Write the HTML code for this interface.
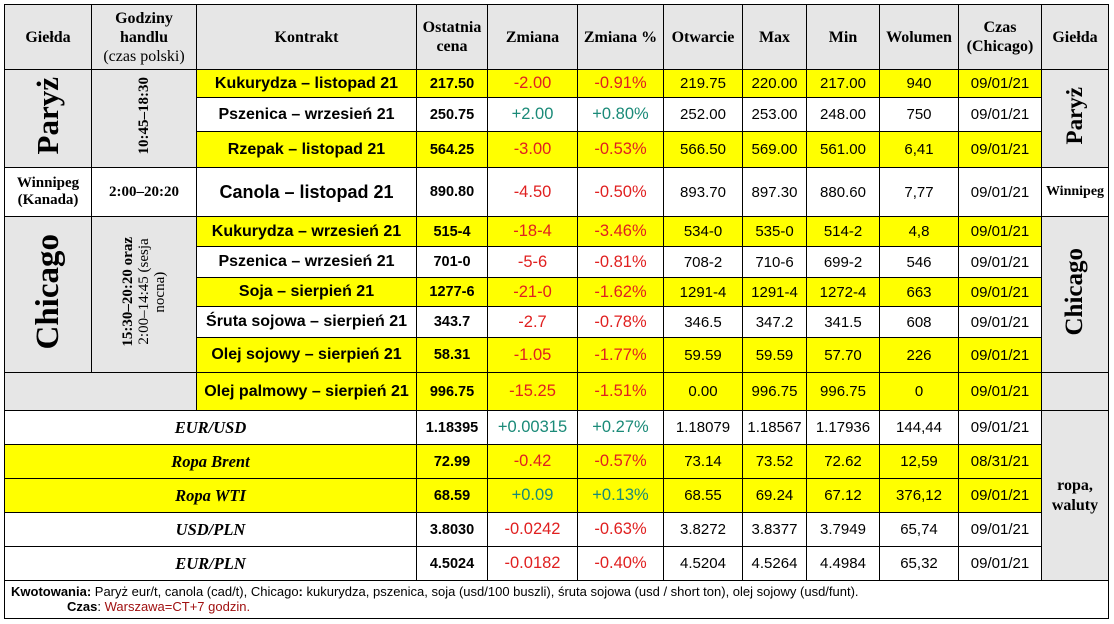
<!DOCTYPE html>
<html><head><meta charset="utf-8"><style>
body{margin:0;background:#fff;width:1114px;height:624px;overflow:hidden}
table{position:absolute;left:4px;top:4px;border-collapse:collapse;table-layout:fixed;width:1104px}
td{border:1px solid #000;text-align:center;vertical-align:middle;padding:0;font-family:"Liberation Sans",sans-serif;font-size:15px;color:#000;overflow:hidden}
.h{background:#e6e6e6;font-family:"Liberation Serif",serif;font-weight:bold;font-size:16px;line-height:19px}
.g{background:#e6e6e6;font-family:"Liberation Serif",serif;font-weight:bold}
.y td.c{background:#ff0}
.k{font-weight:bold;font-size:16px}
.b{font-weight:bold;font-size:14.5px}
.r{color:#e02020;font-size:16.5px}
.gr{color:#1a8a78;font-size:16.5px}
.it{font-family:"Liberation Serif",serif;font-weight:bold;font-style:italic;font-size:16.5px}
.rot{writing-mode:vertical-rl;transform:rotate(180deg);display:inline-block;white-space:nowrap}
</style></head><body>
<table>
<colgroup><col style="width:87px"><col style="width:105px"><col style="width:220px"><col style="width:71px"><col style="width:90px"><col style="width:86px"><col style="width:79px"><col style="width:64px"><col style="width:73px"><col style="width:79px"><col style="width:83px"><col style="width:67px"></colgroup>
<tr style="height:65px"><td class="h">Giełda</td><td class="h">Godziny<br>handlu<br><span style="font-weight:normal">(czas polski)</span></td><td class="h">Kontrakt</td><td class="h">Ostatnia<br>cena</td><td class="h">Zmiana</td><td class="h">Zmiana %</td><td class="h">Otwarcie</td><td class="h">Max</td><td class="h">Min</td><td class="h">Wolumen</td><td class="h">Czas<br>(Chicago)</td><td class="h">Giełda</td></tr>
<tr class="y" style="height:28px"><td class="g" rowspan="3"><span class="rot" style="font-size:31px">Paryż</span></td><td class="g" rowspan="3"><span class="rot" style="font-size:15px">10:45–18:30</span></td><td class="c k">Kukurydza – listopad 21</td><td class="c b">217.50</td><td class="c r">-2.00</td><td class="c r">-0.91%</td><td class="c">219.75</td><td class="c">220.00</td><td class="c">217.00</td><td class="c">940</td><td class="c">09/01/21</td><td class="g" rowspan="3"><span class="rot" style="font-size:23px">Paryż</span></td></tr>
<tr style="height:34px"><td class="k">Pszenica – wrzesień 21</td><td class="b">250.75</td><td class="gr">+2.00</td><td class="gr">+0.80%</td><td>252.00</td><td>253.00</td><td>248.00</td><td>750</td><td>09/01/21</td></tr>
<tr class="y" style="height:36px"><td class="c k">Rzepak – listopad 21</td><td class="c b">564.25</td><td class="c r">-3.00</td><td class="c r">-0.53%</td><td class="c">566.50</td><td class="c">569.00</td><td class="c">561.00</td><td class="c">6,41</td><td class="c">09/01/21</td></tr>
<tr style="height:49px"><td style="font-family:'Liberation Serif',serif;font-weight:bold;font-size:15px">Winnipeg<br>(Kanada)</td><td style="font-family:'Liberation Serif',serif;font-weight:bold;font-size:15px">2:00–20:20</td><td class="b" style="font-size:18px">Canola – listopad 21</td><td class="b">890.80</td><td class="r">-4.50</td><td class="r">-0.50%</td><td>893.70</td><td>897.30</td><td>880.60</td><td>7,77</td><td>09/01/21</td><td style="font-family:'Liberation Serif',serif;font-weight:bold;font-size:14px">Winnipeg</td></tr>
<tr class="y" style="height:30px"><td class="g" rowspan="5"><span class="rot" style="font-size:33px">Chicago</span></td><td class="g" rowspan="5"><span class="rot" style="font-size:15px;line-height:16px;text-align:center"><b>15:30–20:20 oraz</b><br><span style="font-weight:normal">2:00–14:45 (sesja<br>nocna)</span></span></td><td class="c k">Kukurydza – wrzesień 21</td><td class="c b">515-4</td><td class="c r">-18-4</td><td class="c r">-3.46%</td><td class="c">534-0</td><td class="c">535-0</td><td class="c">514-2</td><td class="c">4,8</td><td class="c">09/01/21</td><td class="g" rowspan="5"><span class="rot" style="font-size:25px">Chicago</span></td></tr>
<tr style="height:31px"><td class="k">Pszenica – wrzesień 21</td><td class="b">701-0</td><td class="r">-5-6</td><td class="r">-0.81%</td><td>708-2</td><td>710-6</td><td>699-2</td><td>546</td><td>09/01/21</td></tr>
<tr class="y" style="height:29px"><td class="c k">Soja – sierpień 21</td><td class="c b">1277-6</td><td class="c r">-21-0</td><td class="c r">-1.62%</td><td class="c">1291-4</td><td class="c">1291-4</td><td class="c">1272-4</td><td class="c">663</td><td class="c">09/01/21</td></tr>
<tr style="height:31px"><td class="k">Śruta sojowa – sierpień 21</td><td class="b">343.7</td><td class="r">-2.7</td><td class="r">-0.78%</td><td>346.5</td><td>347.2</td><td>341.5</td><td>608</td><td>09/01/21</td></tr>
<tr class="y" style="height:35px"><td class="c k">Olej sojowy – sierpień 21</td><td class="c b">58.31</td><td class="c r">-1.05</td><td class="c r">-1.77%</td><td class="c">59.59</td><td class="c">59.59</td><td class="c">57.70</td><td class="c">226</td><td class="c">09/01/21</td></tr>
<tr class="y" style="height:38px"><td class="g" colspan="2"></td><td class="c k">Olej palmowy – sierpień 21</td><td class="c b">996.75</td><td class="c r">-15.25</td><td class="c r">-1.51%</td><td class="c">0.00</td><td class="c">996.75</td><td class="c">996.75</td><td class="c">0</td><td class="c">09/01/21</td><td class="g"></td></tr>
<tr style="height:34px"><td class="it" colspan="3">EUR/USD</td><td class="b" style="border-left:1px solid #c03030">1.18395</td><td class="gr">+0.00315</td><td class="gr">+0.27%</td><td>1.18079</td><td>1.18567</td><td>1.17936</td><td>144,44</td><td>09/01/21</td><td class="g" rowspan="5" style="font-size:16px;line-height:20px">ropa,<br>waluty</td></tr>
<tr class="y" style="height:34px"><td class="c it" colspan="3">Ropa Brent</td><td class="c b">72.99</td><td class="c r">-0.42</td><td class="c r">-0.57%</td><td class="c">73.14</td><td class="c">73.52</td><td class="c">72.62</td><td class="c">12,59</td><td class="c">08/31/21</td></tr>
<tr class="y" style="height:34px"><td class="c it" colspan="3">Ropa WTI</td><td class="c b">68.59</td><td class="c gr">+0.09</td><td class="c gr">+0.13%</td><td class="c">68.55</td><td class="c">69.24</td><td class="c">67.12</td><td class="c">376,12</td><td class="c">09/01/21</td></tr>
<tr style="height:34px"><td class="it" colspan="3">USD/PLN</td><td class="b">3.8030</td><td class="r">-0.0242</td><td class="r">-0.63%</td><td>3.8272</td><td>3.8377</td><td>3.7949</td><td>65,74</td><td>09/01/21</td></tr>
<tr style="height:34px"><td class="it" colspan="3">EUR/PLN</td><td class="b">4.5024</td><td class="r">-0.0182</td><td class="r">-0.40%</td><td>4.5204</td><td>4.5264</td><td>4.4984</td><td>65,32</td><td>09/01/21</td></tr>
<tr style="height:38px"><td colspan="12" style="text-align:left;vertical-align:top;font-size:13px;line-height:15px;padding:3px 0 0 6px"><b>Kwotowania:</b> Paryż eur/t, canola (cad/t), Chicago<b>:</b> kukurydza, pszenica, soja (usd/100 buszli), śruta sojowa (usd / short ton), olej sojowy (usd/funt).<br><span style="padding-left:56px"><b>Czas</b>: <span style="color:#a01010">Warszawa=CT+7 godzin.</span></span></td></tr>
</table>
</body></html>
